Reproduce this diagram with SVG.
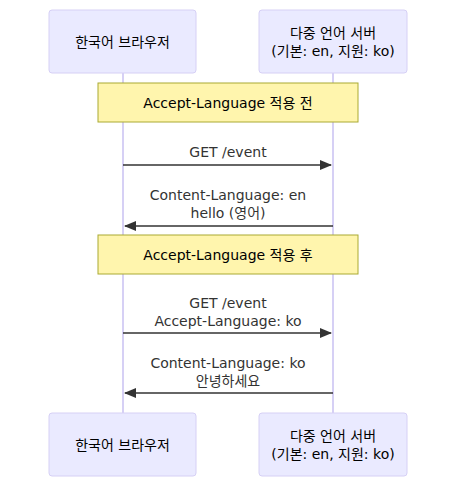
<svg xmlns="http://www.w3.org/2000/svg" width="465" height="496" viewBox="0 0 465 496">
<style>
text{font-family:"DejaVu Sans","Noto Sans CJK KR",sans-serif;}
.actor{fill:#eaeaff;stroke:#d6d0f5;stroke-width:1;}
.atext{font-size:14px;fill:#000;text-anchor:middle;dominant-baseline:central;}
.life{stroke:#d6d0f5;stroke-width:2;}
.note{fill:#fff5ad;stroke:#aaaa33;stroke-width:1;}
.ntext{font-size:14px;fill:#000;text-anchor:middle;dominant-baseline:central;}
.msg{stroke:#333;stroke-width:1.5;fill:none;}
.mtext{font-size:14px;fill:#333;text-anchor:middle;dominant-baseline:central;}
</style>
<defs>
<marker id="arrow" viewBox="0 0 12 10" refX="11" refY="5" markerWidth="12" markerHeight="10" markerUnits="userSpaceOnUse" orient="auto">
<path d="M0,0 L12,5 L0,10 z" fill="#333"/>
</marker>
</defs>
<g id="lifelines">
<line class="life" x1="123" y1="73" x2="123" y2="413"/>
<line class="life" x1="333" y1="73" x2="333" y2="413"/>
</g>
<g id="actor-browser-top">
<rect class="actor" x="49" y="10" width="147" height="63" rx="3"/>
<text class="atext" x="122.5" y="41.5">한국어 브라우저</text>
</g>
<g id="actor-server-top">
<rect class="actor" x="259" y="10" width="148" height="63" rx="3"/>
<text class="atext" x="333" y="32.5">다중 언어 서버</text>
<text class="atext" x="333" y="50.5">(기본: en, 지원: ko)</text>
</g>
<g id="note-before">
<rect class="note" x="98" y="83" width="260" height="39"/>
<text class="ntext" x="228" y="102.5">Accept-Language 적용 전</text>
</g>
<g id="note-after">
<rect class="note" x="98" y="235" width="260" height="39"/>
<text class="ntext" x="228" y="254.5">Accept-Language 적용 후</text>
</g>
<g id="connectors">
<line class="msg" x1="123" y1="165" x2="331" y2="165" marker-end="url(#arrow)"/>
<line class="msg" x1="333" y1="226" x2="125" y2="226" marker-end="url(#arrow)"/>
<line class="msg" x1="123" y1="333" x2="331" y2="333" marker-end="url(#arrow)"/>
<line class="msg" x1="333" y1="393" x2="125" y2="393" marker-end="url(#arrow)"/>
</g>
<g id="labels">
<text class="mtext" x="228" y="152">GET /event</text>
<text class="mtext" x="228" y="195">Content-Language: en</text>
<text class="mtext" x="228" y="213">hello (영어)</text>
<text class="mtext" x="228" y="303">GET /event</text>
<text class="mtext" x="228" y="321">Accept-Language: ko</text>
<text class="mtext" x="228" y="363">Content-Language: ko</text>
<text class="mtext" x="228" y="381">안녕하세요</text>
</g>
<g id="actor-browser-bottom">
<rect class="actor" x="49" y="413" width="147" height="63" rx="3"/>
<text class="atext" x="122.5" y="444.5">한국어 브라우저</text>
</g>
<g id="actor-server-bottom">
<rect class="actor" x="259" y="413" width="148" height="63" rx="3"/>
<text class="atext" x="333" y="435.5">다중 언어 서버</text>
<text class="atext" x="333" y="453.5">(기본: en, 지원: ko)</text>
</g>
</svg>
